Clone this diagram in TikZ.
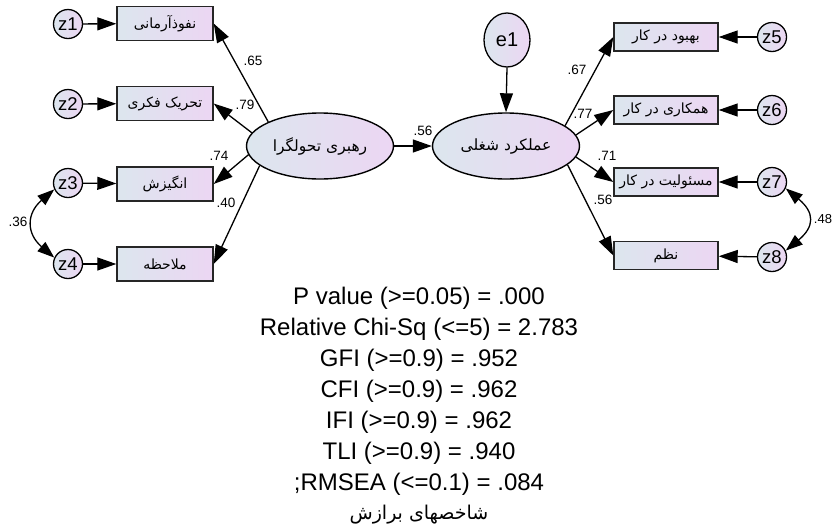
\documentclass[tikz,border=0pt]{standalone}
\usepackage{fontspec}
\setmainfont{Liberation Sans}
\newfontfamily\fa[Script=Arabic]{DejaVu Sans}
\TeXXeTstate=1
\usetikzlibrary{arrows.meta,shapes.geometric}
\definecolor{lft}{RGB}{220,230,238}
\definecolor{rgt}{RGB}{236,214,243}
\newcommand{\rtl}[1]{{\fa\beginR #1\endR}}
\begin{document}
\begin{tikzpicture}[x=1pt,y=-1pt,
  conn/.style={line width=1.3pt,-{Triangle[length=19pt,width=13pt]}},
  bidir/.style={line width=1.3pt,{Triangle[length=17pt,width=12pt]}-{Triangle[length=17pt,width=12pt]}},
  lbox/.style={draw=black!85,line width=1.4pt,left color=lft,right color=rgt,minimum width=96pt,minimum height=34pt,inner sep=0pt,font=\fa\fontsize{14}{16}\selectfont},
  rbox/.style={draw=black!85,line width=1.4pt,left color=lft,right color=rgt,minimum width=104pt,minimum height=28pt,inner sep=0pt,font=\fa\fontsize{14}{16}\selectfont},
  zc/.style={circle,draw,line width=1.3pt,left color=lft,right color=rgt,minimum size=29pt,inner sep=0pt,font=\fontsize{18.5}{18.5}\selectfont},
  lat/.style={ellipse,draw,line width=1.4pt,left color=lft,right color=rgt,minimum width=147pt,minimum height=66pt,inner sep=0pt,font=\fa\fontsize{15.5}{17}\selectfont},
  coef/.style={font=\fontsize{13.5}{14}\selectfont,inner sep=0pt},
  fitline/.style={font=\fontsize{24}{26}\selectfont,inner sep=0pt}]
\useasboundingbox (0,0) rectangle (833,531);
% latent variables
\node[lat] (le) at (320,146) {\rtl{رهبری تحولگرا}};
\node[lat] (re) at (506,146) {\rtl{عملکرد شغلی}};
\node[ellipse,draw,line width=1.3pt,left color=lft,right color=rgt,minimum width=46pt,minimum height=54pt,inner sep=0pt,font=\fontsize{20}{20}\selectfont] (e1) at (507,40) {e1};
% left boxes
\node[lbox] (b1) at (165,23.5) {\rtl{نفوذآرمانی}};
\node[lbox] (b2) at (165,103.5) {\rtl{تحریک فکری}};
\node[lbox] (b3) at (165,184) {\rtl{انگیزش}};
\node[lbox] (b4) at (165,264) {\rtl{ملاحظه}};
% right boxes
\node[rbox] (b5) at (666,37) {\rtl{بهبود در کار}};
\node[rbox] (b6) at (666,110) {\rtl{همکاری در کار}};
\node[rbox] (b7) at (666,182) {\rtl{مسئولیت در کار}};
\node[rbox] (b8) at (666,255.5) {\rtl{نظم}};
% error circles
\node[zc] (z1) at (68,24) {z1};
\node[zc] (z2) at (68,104) {z2};
\node[zc] (z3) at (68,183) {z3};
\node[zc] (z4) at (68,264) {z4};
\node[zc] (z5) at (772,37) {z5};
\node[zc] (z6) at (772,110) {z6};
\node[zc] (z7) at (772,182) {z7};
\node[zc] (z8) at (772,257) {z8};
% connectors
\draw[conn] (z1) -- (b1);
\draw[conn] (z2) -- (b2);
\draw[conn] (z3) -- (b3);
\draw[conn] (z4) -- (b4);
\draw[conn] (z5) -- (b5);
\draw[conn] (z6) -- (b6);
\draw[conn] (z7) -- (b7);
\draw[conn] (z8) -- (b8);
\draw[conn] (le.155) -- (b1.east);
\draw[conn] (le.169) -- (b2.east);
\draw[conn] (le.187) -- (b3.east);
\draw[conn] (le.198) -- (b4.east);
\draw[conn] (re.19) -- (b5.west);
\draw[conn] (re.9) -- (b6.west);
\draw[conn] (re.-9) -- (b7.west);
\draw[conn] (re.-17) -- (b8.west);
\draw[conn] (le.east) -- (re.west);
\draw[conn] (e1.south) -- (re.north);
\draw[bidir] (z3.205) .. controls +(-28,24) and +(-28,-24) .. (z4.155);
\draw[bidir] (z7.-25) .. controls +(29,24) and +(29,-24) .. (z8.25);
% coefficients
\node[coef] (c1) at (253,61) {.65};
\node[coef] (c2) at (245,105) {.79};
\node[coef] (c3) at (219,156) {.74};
\node[coef] (c4) at (226,203) {.40};
\node[coef] (c5) at (423,131) {.56};
\node[coef] (c6) at (577,70) {.67};
\node[coef] (c7) at (583,114) {.77};
\node[coef] (c8) at (607,156) {.71};
\node[coef] (c9) at (603,200) {.56};
\node[coef] (c10) at (18,222) {.36};
\node[coef,font=\fontsize{13}{14}\selectfont] (c11) at (823,219) {.48};
% fit indices
\node[fitline] (s1) at (419,298) {P value (>=0.05) = .000};
\node[fitline] (s2) at (419,329) {Relative Chi-Sq (<=5) = 2.783};
\node[fitline] (s3) at (419,360) {GFI (>=0.9) = .952};
\node[fitline] (s4) at (419,391) {CFI (>=0.9) = .962};
\node[fitline] (s5) at (419,422) {IFI (>=0.9) = .962};
\node[fitline] (s6) at (419,453) {TLI (>=0.9) = .940};
\node[fitline] (s7) at (419,484) {;RMSEA (<=0.1) = .084};
\node[inner sep=0pt,font=\fa\fontsize{19}{21}\selectfont] (s8) at (419,515) {\rtl{شاخصهای برازش}};
\end{tikzpicture}
\end{document}
